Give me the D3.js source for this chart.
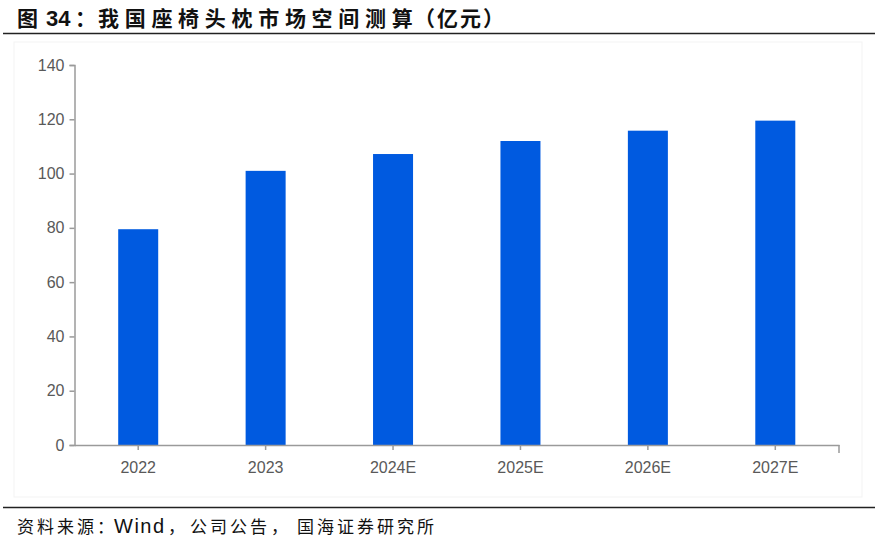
<!DOCTYPE html>
<html><head><meta charset="utf-8">
<script src="https://cdn.jsdelivr.net/npm/d3@7"></script>
<style>body{margin:0;background:#fff}svg{display:block}</style>
</head><body><svg id="c" width="878" height="542"></svg>
<script>
const categories = ["2022","2023","2024E","2025E","2026E","2027E"];
const values = [79.5, 101, 107.2, 112, 115.8, 119.5];
const yTicks = [0,20,40,60,80,100,120,140];
const titleMain = "我国座椅头枕市场空间测算";
const titleUnit = "（亿元）";
const sourceParts = ["资料来源", "：", "Wind", "，", "公司公告", "，", "国海证券研究所"];

(function(){
const svg = d3.select("#c");
const pLeft = 74.5, pRight = 839, pTop = 65, pBottom = 445;
const cjk = "'Noto Sans CJK SC', sans-serif";
const latin = "'Liberation Sans', Arial, sans-serif";

// frame
svg.append("rect").attr("x",14).attr("y",42).attr("width",848).attr("height",455)
  .attr("fill","none").attr("stroke","#f3f3f3").attr("stroke-width",1);

// title
const t = svg.append("text").attr("y",26)
  .attr("font-family",cjk).attr("font-weight","bold")
  .attr("font-size",21).attr("fill","#111");
t.append("tspan").attr("x",17).text("图");
t.append("tspan").attr("x",46).attr("font-family",latin).attr("font-size",22).text("34");
t.append("tspan").attr("x",75).text("：");
t.append("tspan").attr("x",98).attr("letter-spacing","5.7px").text(titleMain);
t.append("tspan").attr("x",414).attr("letter-spacing","2px").text(titleUnit);

svg.append("line").attr("x1",3).attr("x2",875).attr("y1",33.5).attr("y2",33.5)
  .attr("stroke","#222").attr("stroke-width",1.5);
svg.append("line").attr("x1",3).attr("x2",875).attr("y1",507.5).attr("y2",507.5)
  .attr("stroke","#222").attr("stroke-width",1.5);

const s = svg.append("text").attr("y",533).attr("font-size",17).attr("fill","#111").attr("font-family",cjk);
const sx = [17, 97, 114, 168, 190, 271, 297];
sourceParts.forEach((p,i)=>{
  const ts = s.append("tspan").attr("x",sx[i]).text(p);
  if (i===2) ts.attr("font-family",latin).attr("font-size",20).attr("letter-spacing","1.5px");
  else if (p.length>1) ts.attr("letter-spacing","3px");
});

const x = d3.scaleBand().domain(categories).range([pLeft,pRight]).paddingInner(0.686).paddingOuter(0.343);
const y = d3.scaleLinear().domain([0,140]).range([pBottom,pTop]);

// bars
svg.append("g").selectAll("rect").data(values).join("rect")
  .attr("x",(d,i)=>x(categories[i])).attr("width",x.bandwidth())
  .attr("y",d=>y(d)).attr("height",d=>y(0)-y(d))
  .attr("fill","#005ae0");

// y axis
const ya = svg.append("g").attr("transform",`translate(${pLeft},0)`)
  .call(d3.axisLeft(y).tickValues(yTicks).tickSize(5).tickPadding(5).tickFormat(d3.format("d")));
ya.select(".domain").attr("stroke","#9a9a9a").attr("stroke-width",1.5);
ya.selectAll(".tick line").attr("stroke","#9a9a9a").attr("stroke-width",1.5);
ya.selectAll("text").attr("font-family",latin).attr("font-size",16).attr("fill","#595959");

// x axis
const xa = svg.append("g").attr("transform",`translate(0,${pBottom})`)
  .call(d3.axisBottom(x).tickSize(5).tickPadding(12).tickSizeOuter(0));
xa.select(".domain").attr("stroke","#9a9a9a").attr("stroke-width",1.5);
xa.selectAll(".tick line").attr("stroke","#9a9a9a").attr("stroke-width",1.5);
xa.selectAll("text").attr("font-family",latin).attr("font-size",16).attr("fill","#595959");
xa.append("line").attr("x1",pRight).attr("x2",pRight).attr("y1",0).attr("y2",8)
  .attr("stroke","#9a9a9a").attr("stroke-width",1.5);
})();
</script></body></html>
